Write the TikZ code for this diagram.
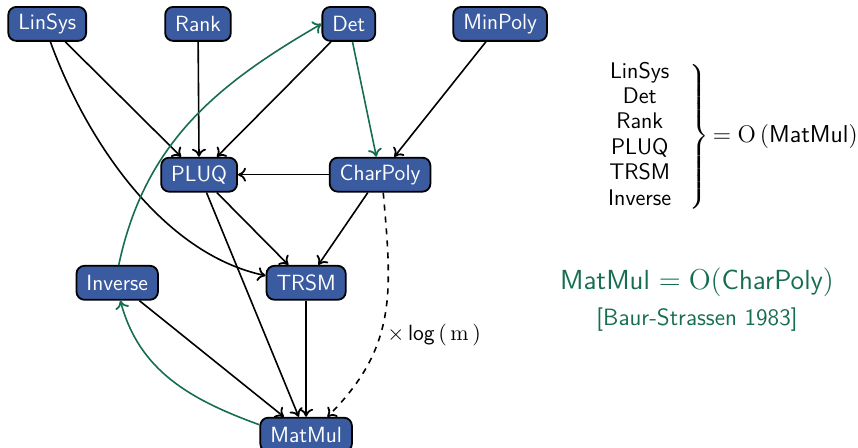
\documentclass[tikz,border=0pt]{standalone}
\usepackage{amsmath}
\usetikzlibrary{arrows.meta}
\renewcommand{\familydefault}{\sfdefault}
\definecolor{boxblue}{RGB}{59,91,160}
\definecolor{bsgreen}{RGB}{22,110,82}

\begin{document}
\begin{tikzpicture}[>={To[length=4pt,width=7pt,line width=0.9pt]},
    algo/.style={draw=black, line width=0.9pt, fill=boxblue, text=white,
      rounded corners=4pt, minimum height=17pt, inner xsep=5pt,
      font=\fontsize{11}{13}\selectfont},
    dep/.style={->, thick},
    gdep/.style={->, thick, bsgreen}]
  \useasboundingbox (0,0) rectangle (15.08,7.87);
  % problems
  \node[algo] (linsys) at (0.83,7.45) {LinSys};
  \node[algo] (rank) at (3.48,7.45) {Rank};
  \node[algo] (det) at (6.13,7.45) {Det};
  \node[algo] (minpoly) at (8.79,7.45) {MinPoly};
  \node[algo] (pluq) at (3.50,4.80) {PLUQ};
  \node[algo] (charpoly) at (6.68,4.80) {CharPoly};
  \node[algo] (inverse) at (2.06,2.90) {Inverse};
  \node[algo] (trsm) at (5.38,2.90) {TRSM};
  \node[algo] (matmul) at (5.38,0.23) {MatMul};
  % reductions
  \draw[dep] (linsys) -- (pluq);
  \draw[dep] (linsys.-80) to[out=-70,in=168,looseness=0.85] (trsm.170);
  \draw[dep] (rank) -- (pluq);
  \draw[dep] (det) -- (pluq);
  \draw[dep] (minpoly) -- (charpoly);
  \draw[dep] (charpoly) -- (pluq);
  \draw[dep] (pluq) -- (trsm);
  \draw[dep] (pluq) -- (matmul);
  \draw[dep] (charpoly) -- (trsm);
  \draw[dep] (trsm) -- (matmul);
  \draw[dep] (inverse) -- (matmul);
  \draw[dep, dashed] (charpoly.-80) to[out=-85,in=45,looseness=1.1] (matmul.40);
  \node (logm) at (7.63,1.99) {\fontsize{11}{13}\selectfont $\times$\,log$\,(\,\mathrm{m}\,)$};
  % green ones
  \draw[gdep] (det) -- (charpoly);
  \draw[gdep] (matmul.168) to[out=160,in=-75] (inverse.-80);
  \draw[gdep] (inverse.85) to[out=78,in=210] (det.west);
  % summary
  \node (summary) at (12.86,5.47) {\fontsize{11.3}{12.7}\selectfont
    $\left.\begin{tabular}{@{}c@{}}LinSys\\Det\\Rank\\PLUQ\\TRSM\\Inverse\end{tabular}\hspace{9pt}\right\}$%
    {\fontsize{12.2}{14}\selectfont$\,=\mathrm{O}\,(\text{MatMul})$}};
  \node[bsgreen] (baur) at (12.25,2.90) {\fontsize{13.8}{16}\selectfont MatMul $=\mathrm{O}($CharPoly$)$};
  \node[bsgreen] (cite) at (12.25,2.25) {\fontsize{11.8}{14}\selectfont [Baur-Strassen 1983]};
\end{tikzpicture}
\end{document}
